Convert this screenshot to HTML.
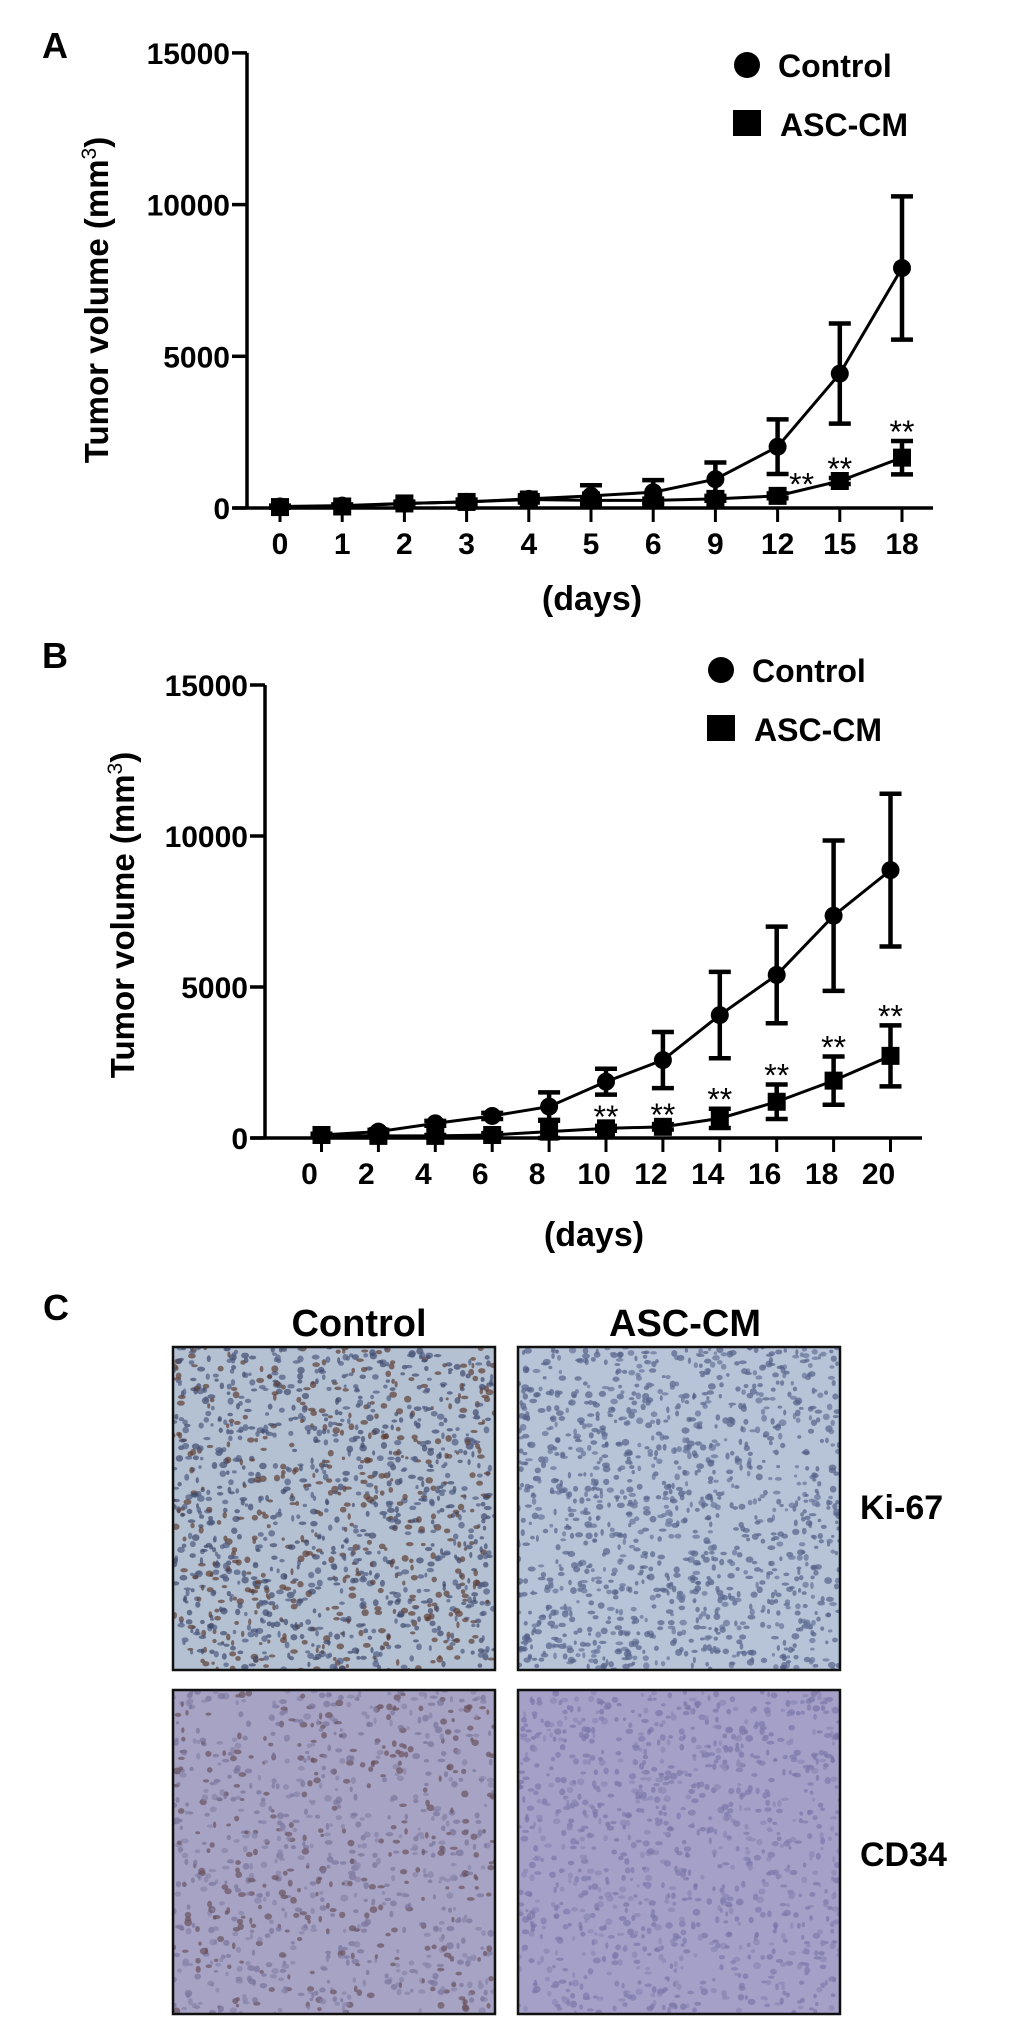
<!DOCTYPE html>
<html><head><meta charset="utf-8">
<style>
html,body{margin:0;padding:0;background:#fff;}
svg{display:block;}
text{font-family:"Liberation Sans",Arial,sans-serif;}
</style></head>
<body>
<svg id="fig" width="1033" height="2020" viewBox="0 0 1033 2020" xmlns="http://www.w3.org/2000/svg">
<defs>
<clipPath id="c1"><rect x="173" y="1347" width="322" height="323"/></clipPath>
<clipPath id="c2"><rect x="518" y="1347" width="322" height="323"/></clipPath>
<clipPath id="c3"><rect x="173" y="1690" width="322" height="324"/></clipPath>
<clipPath id="c4"><rect x="518" y="1690" width="322" height="324"/></clipPath>
</defs>
<g id="chartA"></g>
<g id="chartB"></g>
<g id="panelC"></g>
</svg>
<script>
// ----- Chart A data -----
const catsA = ["0","1","2","3","4","5","6","9","12","15","18"];
const ctrlA = [50,80,150,200,300,400,520,950,2020,4430,7910];
const ctrlAErr = [30,40,60,80,120,350,400,550,900,1650,2360];
const ascA = [30,50,150,200,280,250,250,300,400,890,1660];
const ascAErr = [20,20,40,40,60,60,60,60,80,100,550];
const starsA = [8,9,10];
const yTicksA = [0,5000,10000,15000];
// ----- Chart B data -----
const catsB = ["0","2","4","6","8","10","12","14","16","18","20"];
const ctrlB = [100,210,485,730,1040,1865,2580,4070,5400,7360,8870];
const ctrlBErr = [40,60,80,100,470,430,930,1430,1600,2490,2530];
const ascB = [100,70,70,100,210,320,370,650,1200,1900,2720];
const ascBErr = [30,30,30,60,390,80,90,320,570,800,1010];
const starsB = [5,6,7,8,9,10];
const yTicksB = [0,5000,10000,15000];

const NS="http://www.w3.org/2000/svg";
function mk(parent,tag,attrs){const e=document.createElementNS(NS,tag);for(const k in attrs)e.setAttribute(k,attrs[k]);parent.appendChild(e);return e;}

function drawChart(g,cfg){
  const yS=v=>cfg.y0-(v/5000)*cfg.step;
  const xS=i=>cfg.x0+i*cfg.dx;
  const ya=mk(g,'line',{x1:cfg.ax,y1:yS(15000),x2:cfg.ax,y2:cfg.y0,stroke:'#000','stroke-width':3.5});
  
  
  cfg.yTicks.forEach(t=>{
    const tl=mk(g,'line',{x1:cfg.ax-15,y1:yS(t),x2:cfg.ax,y2:yS(t),stroke:'#000','stroke-width':3.5});
    
    
    const tx=mk(g,'text',{x:cfg.ax-17,y:yS(t)+11,'font-size':30,'font-weight':'bold','text-anchor':'end'});
    tx.textContent=t;
    
    
  });
  const xa=mk(g,'line',{x1:cfg.ax-14,y1:cfg.y0,x2:cfg.xEnd,y2:cfg.y0,stroke:'#000','stroke-width':3.5});
  
  
  cfg.cats.forEach((c,i)=>{
    const tl=mk(g,'line',{x1:xS(i),y1:cfg.y0,x2:xS(i),y2:cfg.y0+14,stroke:'#000','stroke-width':3});
    
    
    const tx=mk(g,'text',{x:xS(i)+cfg.lblOff,y:cfg.y0+46,'font-size':30,'font-weight':'bold','text-anchor':'middle'});
    tx.textContent=c;
    
    
  });
  function series(vals,errs,shape,name){
    const pts=vals.map((v,i)=>xS(i)+','+yS(v)).join(' ');
    const pl=mk(g,'polyline',{points:pts,fill:'none',stroke:'#000','stroke-width':3});
    
    
    vals.forEach((v,i)=>{
      const x=xS(i),yu=yS(v+errs[i]),yl=yS(Math.max(0,v-errs[i]));
      const eb=mk(g,'path',{d:`M${x},${yu}V${yl}M${x-11},${yu}H${x+11}M${x-11},${yl}H${x+11}`,stroke:'#000','stroke-width':4.5,fill:'none'});
      
      
      let m;
      if(shape==='c') m=mk(g,'circle',{cx:x,cy:yS(v),r:9,fill:'#000'});
      else m=mk(g,'rect',{x:x-9,y:yS(v)-9,width:18,height:18,fill:'#000'});
      
      
    });
  }
  series(cfg.ctrl,cfg.ctrlErr,'c','control');
  series(cfg.asc,cfg.ascErr,'s','asc-cm');
  cfg.stars.forEach(i=>{
    const s=mk(g,'text',{x:xS(i)+cfg.starOff(i),y:yS(cfg.asc[i]+cfg.ascErr[i])+2,'font-size':32,'text-anchor':'middle'});
    s.textContent='**';
    
    
  });
  const yt=mk(g,'text',{x:0,y:0,'font-size':33,'font-weight':'bold','text-anchor':'middle',transform:`translate(${cfg.ytX},${cfg.ytY}) rotate(-90)`});
  yt.innerHTML='Tumor volume  (mm<tspan dy="-12" font-size="21" font-weight="normal">3</tspan><tspan dy="12">)</tspan>';
  
  
  const xt=mk(g,'text',{x:cfg.xtX,y:cfg.xtY,'font-size':34,'font-weight':'bold','text-anchor':'middle'});
  xt.textContent='(days)';
  
  
  const pl=mk(g,'text',{x:42,y:cfg.plY,'font-size':36,'font-weight':'bold','font-family':'Liberation Serif, serif'});
  pl.textContent=cfg.panel;
  
  
  const lc=mk(g,'circle',{cx:cfg.lgX+14,cy:cfg.lgY,r:13,fill:'#000'});
  
  
  const l1=mk(g,'text',{x:cfg.lgX+45,y:cfg.lgY+12,'font-size':32,'font-weight':'bold'});
  l1.textContent='Control';
  
  
  const ls=mk(g,'rect',{x:cfg.lgX,y:cfg.lgY+45,width:28,height:26,fill:'#000'});
  
  
  const l2=mk(g,'text',{x:cfg.lgX+47,y:cfg.lgY+71,'font-size':32,'font-weight':'bold'});
  l2.textContent='ASC-CM';
  
  
}

drawChart(document.getElementById('chartA'),{
  cats:catsA,ctrl:ctrlA,ctrlErr:ctrlAErr,asc:ascA,ascErr:ascAErr,stars:starsA,yTicks:yTicksA,
  ax:247,y0:508,step:151.7,x0:280,dx:62.2,xEnd:933,lblOff:0,
  starOff:i=>i===8?24:0,ytX:108,ytY:300,xtX:592,xtY:610,plY:58,panel:'A',lgX:733,lgY:65
});
drawChart(document.getElementById('chartB'),{
  cats:catsB,ctrl:ctrlB,ctrlErr:ctrlBErr,asc:ascB,ascErr:ascBErr,stars:starsB,yTicks:yTicksB,
  ax:265,y0:1138,step:151,x0:321.5,dx:56.9,xEnd:922,lblOff:-12,
  starOff:i=>0,ytX:134,ytY:915,xtX:594,xtY:1246,plY:668,panel:'B',lgX:707,lgY:670
});

(function(){
  const g=document.getElementById('panelC');
  let seed=12345;
  const rnd=()=>{seed=(seed*1103515245+12345)%2147483648;return seed/2147483648;};
  const panels=[
    {x:173,y:1347,w:322,h:323,bg:'#b4c1d3',dot:['#3f4a6c','#5e3f36','#4f5b80'],n:1400,clip:'c1',name:'ki67-control-image'},
    {x:518,y:1347,w:322,h:323,bg:'#b7c4d7',dot:['#56628a','#66739a','#56628a'],n:1300,clip:'c2',name:'ki67-asc-cm-image'},
    {x:173,y:1690,w:322,h:324,bg:'#a6a3c4',dot:['#7a759c','#6b5260','#8783aa'],n:1000,clip:'c3',name:'cd34-control-image'},
    {x:518,y:1690,w:322,h:324,bg:'#a4a0c8',dot:['#7e7aad','#8b87b5','#7975a7'],n:1100,clip:'c4',name:'cd34-asc-cm-image'}
  ];
  panels.forEach(p=>{
    const pg=mk(g,'g',{'clip-path':`url(#${p.clip})`});
    
    
    mk(pg,'rect',{x:p.x,y:p.y,width:p.w,height:p.h,fill:p.bg});
    for(let k=0;k<p.n;k++){
      mk(pg,'ellipse',{cx:p.x+rnd()*p.w,cy:p.y+rnd()*p.h,rx:1.5+rnd()*2.5,ry:1.5+rnd()*2,fill:p.dot[k%3],opacity:0.7});
    }
    const b=mk(g,'rect',{x:p.x,y:p.y,width:p.w,height:p.h,fill:'none',stroke:'#111','stroke-width':2.5});
    
    
  });
  const labels=[['C',43,1320,36,'bold','Liberation Serif, serif','start','panel-label'],
    ['Control',359,1336,38,'bold','Liberation Sans, sans-serif','middle','column-title-control'],
    ['ASC-CM',685,1336,38,'bold','Liberation Sans, sans-serif','middle','column-title-asc-cm'],
    ['Ki-67',860,1519,34,'bold','Liberation Sans, sans-serif','start','row-label-ki67'],
    ['CD34',860,1866,34,'bold','Liberation Sans, sans-serif','start','row-label-cd34']];
  labels.forEach(l=>{
    const t=mk(g,'text',{x:l[1],y:l[2],'font-size':l[3],'font-weight':l[4],'font-family':l[5],'text-anchor':l[6]});
    t.textContent=l[0];
    
    
  });
})();
</script>
</body></html>
